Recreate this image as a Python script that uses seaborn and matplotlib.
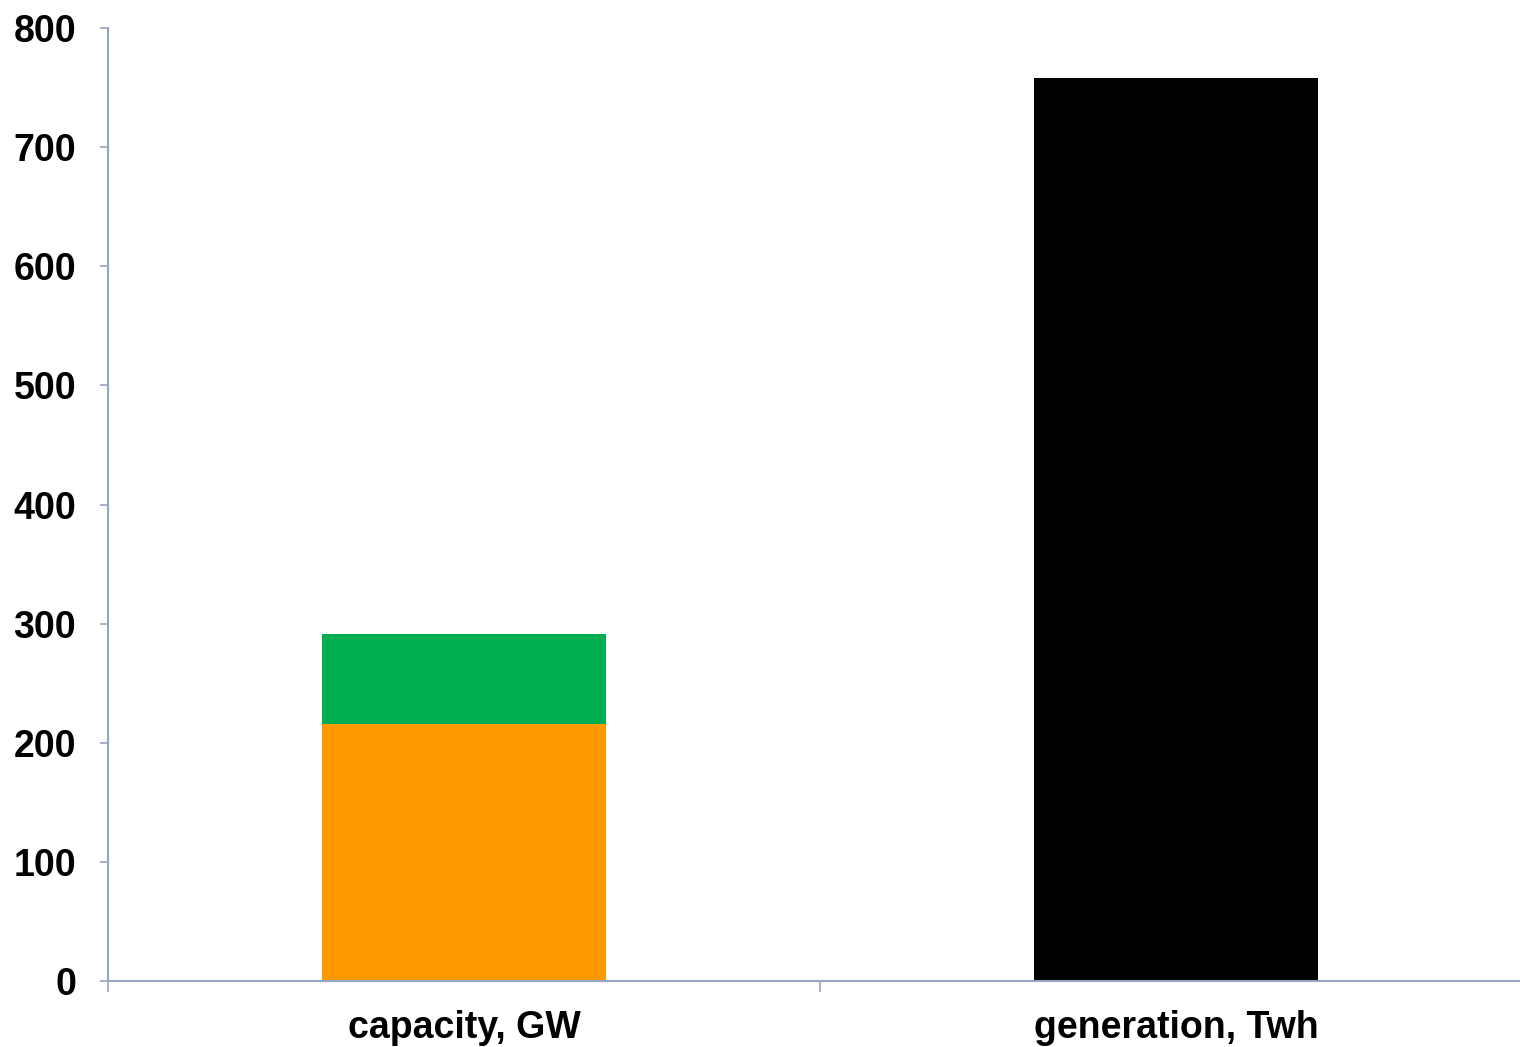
import matplotlib
matplotlib.use("Agg")
import matplotlib.pyplot as plt
import seaborn as sns
import pandas as pd

categories = ["capacity, GW", "generation, Twh"]
capacity_base = [216, 0]     # orange segment
capacity_top = [75, 0]       # green segment stacked on the orange one
generation = [0, 758]        # black bar

sns.set_theme(style="white")
plt.rcParams["font.family"] = ["Liberation Sans", "DejaVu Sans"]

df = pd.DataFrame({
    "category": categories,
    "base": capacity_base,
    "top": capacity_top,
    "gen": generation,
})
df["stack_total"] = df["base"] + df["top"]

fig = plt.figure(figsize=(15.2, 10.47), dpi=100)
ax = fig.add_axes([108 / 1520, 65.7 / 1047, 1 - 108 / 1520, 0.9107])

sns.barplot(data=df, x="category", y="stack_total", order=categories,
            color="#00AF50", width=0.4, saturation=1, ax=ax)
sns.barplot(data=df, x="category", y="base", order=categories,
            color="#FF9900", width=0.4, saturation=1, ax=ax)
sns.barplot(data=df, x="category", y="gen", order=categories,
            color="#000000", width=0.4, saturation=1, ax=ax)

for p in ax.patches:
    p.set_linewidth(0)

ax.set_ylim(0, 800)
ax.set_xlim(-0.5, 1.5 - 12 / 712)
ax.set_yticks(range(0, 801, 100))
ax.set_xticks([-0.5, 0.5], minor=True)
ax.set_xlabel("")
ax.set_ylabel("")

axis_color = "#98A5BF"
for side in ["top", "right"]:
    ax.spines[side].set_visible(False)
for side in ["left", "bottom"]:
    ax.spines[side].set_color(axis_color)
    ax.spines[side].set_linewidth(1.5)

ax.tick_params(axis="y", which="major", direction="out", length=6, width=1.2,
               color=axis_color, pad=17, labelsize=27, left=True)
ax.tick_params(axis="x", which="major", length=0, pad=21, labelsize=27)
ax.tick_params(axis="x", which="minor", direction="out", length=8, width=1.2,
               color=axis_color, bottom=True)
for lab in ax.get_xticklabels() + ax.get_yticklabels():
    lab.set_fontweight("bold")
    lab.set_color("black")

fig.savefig("out.png", dpi=100, facecolor="white")
